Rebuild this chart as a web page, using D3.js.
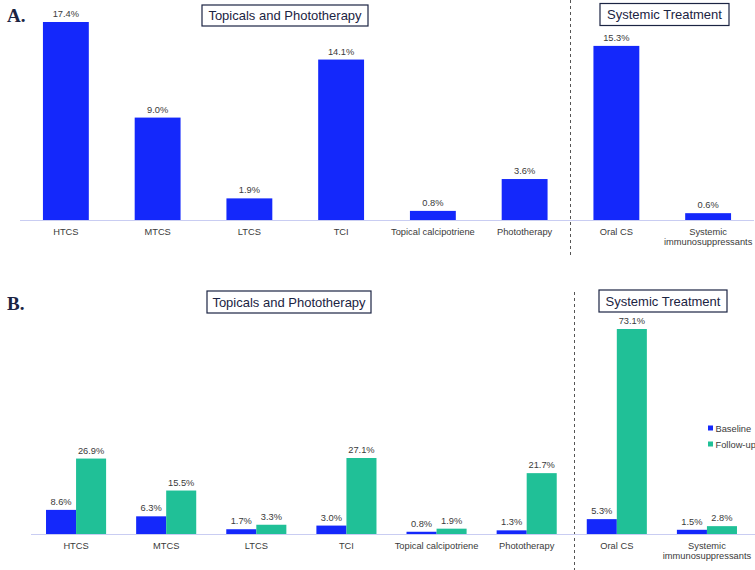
<!DOCTYPE html>
<html>
<head>
<meta charset="utf-8">
<script src="https://cdn.jsdelivr.net/npm/d3@7"></script>
<style>
  html, body { margin: 0; padding: 0; background: #ffffff; }
  svg { display: block; }
</style>
</head>
<body>
<svg id="chart" width="755" height="570"></svg>
<script>
// ---------- data ----------
const categories = ["HTCS", "MTCS", "LTCS", "TCI", "Topical calcipotriene", "Phototherapy", "Oral CS", "Systemic\nimmunosuppressants"];
const panelAValues = [17.4, 9.0, 1.9, 14.1, 0.8, 3.6, 15.3, 0.6];
const baselineValues = [8.6, 6.3, 1.7, 3.0, 0.8, 1.3, 5.3, 1.5];
const followUpValues = [26.9, 15.5, 3.3, 27.1, 1.9, 21.7, 73.1, 2.8];
const seriesNames = ["Baseline", "Follow-up"];
const groupTitles = ["Topicals and Phototherapy", "Systemic Treatment"];
const panelLetters = ["A.", "B."];

// ---------- styling ----------
const BLUE = "#1428fb";
const GREEN = "#20c097";
const AXIS = "#c9cdf2";
const TEXT = "#3a3a3a";
const NAVY = "#1b2443";
const FONT = "'Liberation Sans', Arial, sans-serif";
const FS = 9.3;

const svg = d3.select("#chart");
const fmt = v => v.toFixed(1) + "%";

function categoryLabels(g, x, y0) {
  categories.forEach((c, i) => {
    const lines = c.split("\n");
    const t = g.append("text")
      .attr("x", x(c) + x.bandwidth() / 2)
      .attr("y", y0)
      .attr("text-anchor", "middle")
      .attr("font-family", FONT)
      .attr("font-size", FS)
      .attr("fill", TEXT);
    lines.forEach((ln, k) => {
      t.append("tspan").attr("x", x(c) + x.bandwidth() / 2).attr("dy", k === 0 ? 0 : 10.5).text(ln);
    });
  });
}

function titleBox(g, cx, cy, w, h, label) {
  g.append("rect")
    .attr("x", cx - w / 2).attr("y", cy - h / 2)
    .attr("width", w).attr("height", h)
    .attr("fill", "#fff").attr("stroke", NAVY).attr("stroke-width", 1.2);
  g.append("text")
    .attr("x", cx).attr("y", cy + 4.5)
    .attr("text-anchor", "middle")
    .attr("font-family", FONT).attr("font-size", 13)
    .attr("fill", NAVY)
    .text(label);
}

function panelLetter(g, x, y, t) {
  g.append("text")
    .attr("x", x).attr("y", y)
    .attr("font-family", "'Liberation Serif', 'DejaVu Serif', serif")
    .attr("font-weight", "bold")
    .attr("font-size", 19)
    .attr("fill", NAVY)
    .text(t);
}

// ---------- Panel A ----------
{
  const g = svg.append("g");
  const x = d3.scaleBand().domain(categories).range([20, 754]).paddingInner(0.5).paddingOuter(0.25);
  const y = d3.scaleLinear().domain([0, 17.4]).range([220, 22]);

  g.append("line")
    .attr("x1", 570.5).attr("x2", 570.5).attr("y1", 0).attr("y2", 256)
    .attr("stroke", "#555").attr("stroke-width", 1).attr("stroke-dasharray", "3,3");

  g.selectAll("rect.bar").data(panelAValues).join("rect")
    .attr("class", "bar")
    .attr("x", (d, i) => x(categories[i]))
    .attr("y", d => y(d))
    .attr("width", x.bandwidth())
    .attr("height", d => y(0) - y(d))
    .attr("fill", BLUE);

  g.selectAll("text.val").data(panelAValues).join("text")
    .attr("class", "val")
    .attr("x", (d, i) => x(categories[i]) + x.bandwidth() / 2)
    .attr("y", d => y(d) - 5)
    .attr("text-anchor", "middle")
    .attr("font-family", FONT).attr("font-size", FS)
    .attr("fill", TEXT)
    .text(fmt);

  g.append("line")
    .attr("x1", 20).attr("x2", 754).attr("y1", 220.5).attr("y2", 220.5)
    .attr("stroke", AXIS).attr("stroke-width", 1);

  categoryLabels(g, x, 234.5);
  titleBox(g, 285, 15.5, 166, 21, groupTitles[0]);
  titleBox(g, 664.5, 14.5, 129, 22, groupTitles[1]);
  panelLetter(g, 7, 22, panelLetters[0]);
}

// ---------- Panel B ----------
{
  const g = svg.append("g");
  const x = d3.scaleBand().domain(categories).range([31, 752]).paddingInner(1/3).paddingOuter(1/6);
  const xs = d3.scaleBand().domain(seriesNames).range([0, x.bandwidth()]);
  const y = d3.scaleLinear().domain([0, 73.1]).range([534, 329]);
  const colors = d3.scaleOrdinal().domain(seriesNames).range([BLUE, GREEN]);

  g.append("line")
    .attr("x1", 574.5).attr("x2", 574.5).attr("y1", 292).attr("y2", 570)
    .attr("stroke", "#555").attr("stroke-width", 1).attr("stroke-dasharray", "3,3");

  const rows = categories.map((c, i) => ({
    cat: c,
    vals: [{ s: seriesNames[0], v: baselineValues[i] }, { s: seriesNames[1], v: followUpValues[i] }]
  }));

  const grp = g.selectAll("g.grp").data(rows).join("g")
    .attr("class", "grp")
    .attr("transform", d => `translate(${x(d.cat)},0)`);

  grp.selectAll("rect").data(d => d.vals).join("rect")
    .attr("x", d => xs(d.s))
    .attr("y", d => y(d.v))
    .attr("width", xs.bandwidth())
    .attr("height", d => y(0) - y(d.v))
    .attr("fill", d => colors(d.s));

  grp.selectAll("text").data(d => d.vals).join("text")
    .attr("x", d => xs(d.s) + xs.bandwidth() / 2)
    .attr("y", d => y(d.v) - 5)
    .attr("text-anchor", "middle")
    .attr("font-family", FONT).attr("font-size", FS)
    .attr("fill", TEXT)
    .text(d => fmt(d.v));

  g.append("line")
    .attr("x1", 31).attr("x2", 755).attr("y1", 534.5).attr("y2", 534.5)
    .attr("stroke", AXIS).attr("stroke-width", 1);

  categoryLabels(g, x, 548.5);
  titleBox(g, 289, 302, 164, 22, groupTitles[0]);
  titleBox(g, 663, 301, 128, 22, groupTitles[1]);
  panelLetter(g, 7, 310, panelLetters[1]);

  const lg = g.append("g");
  seriesNames.forEach((s, i) => {
    lg.append("rect")
      .attr("x", 708).attr("y", 425.5 + i * 16).attr("width", 5).attr("height", 5)
      .attr("fill", colors(s));
    lg.append("text")
      .attr("x", 715.5).attr("y", 431.5 + i * 16)
      .attr("font-family", FONT).attr("font-size", FS)
      .attr("fill", TEXT)
      .text(s);
  });
}
</script>
</body>
</html>
